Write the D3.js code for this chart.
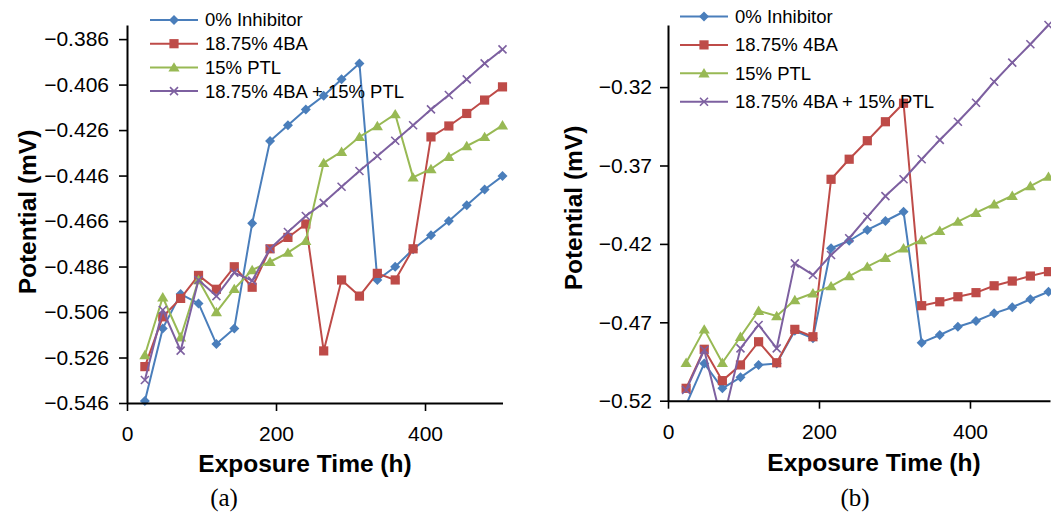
<!DOCTYPE html>
<html>
<head>
<meta charset="utf-8">
<script src="https://cdn.jsdelivr.net/npm/d3@7"></script>
<style>
  html, body { margin: 0; padding: 0; background: #fff; }
  svg { display: block; }
  text { font-family: "Liberation Sans", Arial, sans-serif; }
</style>
</head>
<body>
<svg id="chart" width="1051" height="515"></svg>
<script>
// ---------- data ----------
const hours = [24, 48, 72, 96, 120, 144, 168, 192, 216, 240, 264, 288, 312, 336, 360, 384, 408, 432, 456, 480, 504];
const seriesNames = ["0% Inhibitor", "18.75% 4BA", "15% PTL", "18.75% 4BA + 15% PTL"];
const seriesColors = ["#4A7EBB", "#BE4B48", "#98B954", "#7D60A0"];
const seriesMarkers = ["diamond", "square", "triangle", "x"];

// panel (a)
const a_inhibitor0 = [-0.5451, -0.5132, -0.4981, -0.5022, -0.5201, -0.5132, -0.4670, -0.4308, -0.4239, -0.4169, -0.4109, -0.4037, -0.3967, -0.4919, -0.4861, -0.4784, -0.4722, -0.4660, -0.4590, -0.4521, -0.4462];
const a_4BA = [-0.5300, -0.5081, -0.5000, -0.4899, -0.4960, -0.4861, -0.4951, -0.4782, -0.4732, -0.4673, -0.5231, -0.4919, -0.4990, -0.4890, -0.4919, -0.4782, -0.4290, -0.4242, -0.4187, -0.4128, -0.4070];
const a_PTL = [-0.5249, -0.4995, -0.5171, -0.4919, -0.5060, -0.4958, -0.4875, -0.4839, -0.4799, -0.4747, -0.4404, -0.4355, -0.4290, -0.4242, -0.4190, -0.4468, -0.4431, -0.4377, -0.4330, -0.4290, -0.4239];
const a_4BA_PTL = [-0.5359, -0.5051, -0.5230, -0.4919, -0.4990, -0.4887, -0.4922, -0.4782, -0.4708, -0.4638, -0.4580, -0.4509, -0.4440, -0.4374, -0.4307, -0.4239, -0.4169, -0.4106, -0.4037, -0.3967, -0.3905];

// panel (b)
const b_inhibitor0 = [-0.5226, -0.4962, -0.5121, -0.5051, -0.4972, -0.4962, -0.4754, -0.4802, -0.4228, -0.4180, -0.4111, -0.4054, -0.3995, -0.4830, -0.4781, -0.4728, -0.4692, -0.4643, -0.4604, -0.4553, -0.4505];
const b_4BA = [-0.5121, -0.4872, -0.5072, -0.4972, -0.4824, -0.4958, -0.4745, -0.4792, -0.3788, -0.3660, -0.3542, -0.3421, -0.3303, -0.4594, -0.4569, -0.4537, -0.4511, -0.4467, -0.4437, -0.4405, -0.4377];
const b_PTL = [-0.4958, -0.4745, -0.4958, -0.4792, -0.4626, -0.4660, -0.4558, -0.4515, -0.4469, -0.4405, -0.4345, -0.4288, -0.4228, -0.4175, -0.4116, -0.4058, -0.4001, -0.3947, -0.3893, -0.3831, -0.3771];
const b_4BA_PTL = [-0.5132, -0.4877, -0.5350, -0.4866, -0.4717, -0.4866, -0.4324, -0.4398, -0.4271, -0.4164, -0.4027, -0.3895, -0.3788, -0.3660, -0.3537, -0.3421, -0.3300, -0.3166, -0.3044, -0.2927, -0.2804];

// axis ticks
const xTicks = [0, 200, 400];
const a_yTicks = [-0.546, -0.526, -0.506, -0.486, -0.466, -0.446, -0.426, -0.406, -0.386];
const b_yTicks = [-0.52, -0.47, -0.42, -0.37, -0.32];

const xTitle = "Exposure Time (h)";
const yTitle = "Potential (mV)";

// ---------- drawing ----------
const svg = d3.select("#chart");

const panels = [
  {
    id: "a", label: "(a)", series: [a_inhibitor0, a_4BA, a_PTL, a_4BA_PTL],
    xDomain: [0, 504], xRange: [127, 502.5],
    yDomain: [-0.546, -0.3798], yRange: [403, 25],
    yTicks: a_yTicks, yFmt: d3.format(".3f"), yPad: 10,
    yTitleX: 36, yTitleY: 212, xTitleX: 305, xTitleY: 472,
    legendX: 150, legendY: 20, legendStep: 23.7,
    labelX: 224, labelY: 506
  },
  {
    id: "b", label: "(b)", series: [b_inhibitor0, b_4BA, b_PTL, b_4BA_PTL],
    xDomain: [0, 506], xRange: [668, 1050],
    yDomain: [-0.52, -0.2804], yRange: [400.7, 25],
    yTicks: b_yTicks, yFmt: d3.format(".2f"), yPad: 8,
    yTitleX: 582, yTitleY: 208, xTitleX: 874, xTitleY: 471,
    legendX: 680, legendY: 16.5, legendStep: 28.4,
    labelX: 855, labelY: 506
  }
];

function markerPath(type) {
  switch (type) {
    case "diamond": return "M0,-5L5,0L0,5L-5,0Z";
    case "square": return "M-4.6,-4.6H4.6V4.6H-4.6Z";
    case "triangle": return "M0,-5.2L5.6,4.2L-5.6,4.2Z";
    case "x": return "M-4,-4L4,4M-4,4L4,-4";
  }
}

function drawMarker(g, type, color, x, y) {
  const p = g.append("path")
    .attr("transform", `translate(${x},${y})`)
    .attr("d", markerPath(type));
  if (type === "x") {
    p.attr("fill", "none").attr("stroke", color).attr("stroke-width", 1.6);
  } else {
    p.attr("fill", color).attr("stroke", "none");
  }
}

panels.forEach(P => {
  const g = svg.append("g").attr("class", "panel-" + P.id);
  const x = d3.scaleLinear().domain(P.xDomain).range(P.xRange);
  const y = d3.scaleLinear().domain(P.yDomain).range(P.yRange);

  const clipId = "clip-" + P.id;
  svg.append("defs").append("clipPath").attr("id", clipId)
    .append("rect")
    .attr("x", P.xRange[0]).attr("y", P.yRange[1])
    .attr("width", P.xRange[1] - P.xRange[0])
    .attr("height", P.yRange[0] - P.yRange[1]);

  // series lines
  const line = d3.line().x((d, i) => x(hours[i])).y(d => y(d));
  const dataG = g.append("g");
  P.series.forEach((vals, si) => {
    dataG.append("path")
      .datum(vals)
      .attr("clip-path", `url(#${clipId})`)
      .attr("fill", "none")
      .attr("stroke", seriesColors[si])
      .attr("stroke-width", 2)
      .attr("stroke-linejoin", "round")
      .attr("d", line);
    const mg = dataG.append("g");
    vals.forEach((v, i) => {
      if (v < P.yDomain[0] - 0.0015 || v > P.yDomain[1] + 0.0015) return;
      drawMarker(mg, seriesMarkers[si], seriesColors[si], x(hours[i]), y(v));
    });
  });

  // axes
  const yAxis = d3.axisLeft(y).tickValues(P.yTicks).tickFormat(P.yFmt)
    .tickSize(8).tickSizeOuter(0).tickPadding(P.yPad);
  const xAxis = d3.axisBottom(x).tickValues(xTicks).tickFormat(d3.format("d"))
    .tickSize(8).tickSizeOuter(0).tickPadding(15);

  const ya = g.append("g").attr("transform", `translate(${P.xRange[0]},0)`).call(yAxis);
  const xa = g.append("g").attr("transform", `translate(0,${P.yRange[0]})`).call(xAxis);
  [ya, xa].forEach(a => {
    a.select(".domain").attr("stroke", "#000").attr("stroke-width", 2);
    a.selectAll(".tick line").attr("stroke", "#000").attr("stroke-width", 1.6);
    a.selectAll(".tick text").attr("fill", "#000")
      .style("font-family", '"Liberation Sans", Arial, sans-serif')
      .style("font-size", "21px");
  });

  // axis titles
  g.append("text")
    .attr("x", P.xTitleX).attr("y", P.xTitleY)
    .attr("text-anchor", "middle")
    .style("font-size", "24.5px").style("font-weight", "bold")
    .text(xTitle);
  g.append("text")
    .attr("transform", `translate(${P.yTitleX},${P.yTitleY}) rotate(-90)`)
    .attr("text-anchor", "middle")
    .style("font-size", "24.5px").style("font-weight", "bold")
    .text(yTitle);

  // legend
  const lg = g.append("g");
  seriesNames.forEach((name, si) => {
    const cy = P.legendY + si * P.legendStep;
    lg.append("line")
      .attr("x1", P.legendX).attr("x2", P.legendX + 48)
      .attr("y1", cy).attr("y2", cy)
      .attr("stroke", seriesColors[si]).attr("stroke-width", 2);
    drawMarker(lg, seriesMarkers[si], seriesColors[si], P.legendX + 24, cy);
    lg.append("text")
      .attr("x", P.legendX + 55).attr("y", cy)
      .attr("dy", "0.35em")
      .style("font-size", "18.5px")
      .text(name);
  });

  // panel label
  g.append("text")
    .attr("x", P.labelX).attr("y", P.labelY)
    .attr("text-anchor", "middle")
    .style("font-family", '"Liberation Serif", "Times New Roman", serif')
    .style("font-size", "25px")
    .text(P.label);
});
</script>
</body>
</html>
